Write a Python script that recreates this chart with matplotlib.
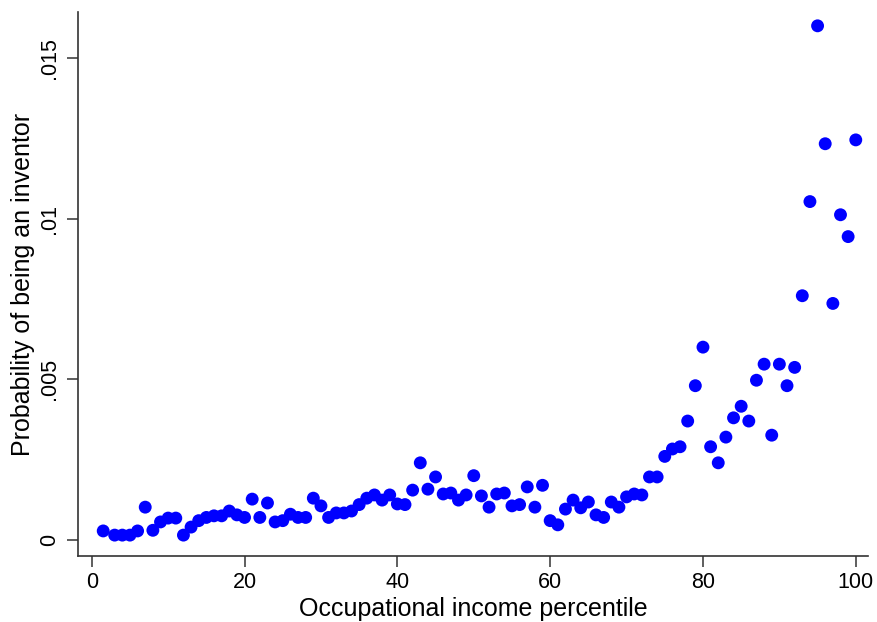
import numpy as np
import matplotlib.pyplot as plt

plt.rcParams['font.family'] = ['Liberation Sans', 'DejaVu Sans']

# occupational income percentile (first bin sits at 1.5)
pctile = [1.5] + list(range(3, 101))
# probability of being an inventor
prob = [0.00028, 0.00015, 0.00015, 0.00015, 0.00028, 0.00102, 0.00030, 0.00056, 0.00068, 0.00068,
        0.00015, 0.00040, 0.00060, 0.00070, 0.00075, 0.00075, 0.00090, 0.00078, 0.00070, 0.00127,
        0.00070, 0.00115, 0.00056, 0.00060, 0.00080, 0.00070, 0.00070, 0.00130, 0.00106, 0.00070,
        0.00084, 0.00084, 0.00090, 0.00110, 0.00130, 0.00140, 0.00124, 0.00140, 0.00112, 0.00110,
        0.00155, 0.00240, 0.00158, 0.00196, 0.00143, 0.00146, 0.00124, 0.00140, 0.00200, 0.00137,
        0.00102, 0.00143, 0.00146, 0.00106, 0.00110, 0.00165, 0.00102, 0.00170, 0.00060, 0.00047,
        0.00096, 0.00124, 0.00100, 0.00118, 0.00078, 0.00070, 0.00118, 0.00102, 0.00134, 0.00143,
        0.00140, 0.00196, 0.00196, 0.00260, 0.00283, 0.00290, 0.00370, 0.00480, 0.00600, 0.00290,
        0.00240, 0.00320, 0.00380, 0.00416, 0.00370, 0.00497, 0.00547, 0.00326, 0.00547, 0.00480,
        0.00537, 0.00760, 0.01053, 0.01600, 0.01233, 0.00736, 0.01012, 0.00944, 0.01245]

fig = plt.figure(figsize=(8.78, 6.22), dpi=100)
ax = fig.add_axes([78/878, 1 - 556/622, 790/878, 544/622])

ax.scatter(pctile, prob, s=86, color='#0000ff', edgecolors='none', zorder=3)

ax.set_xlim(-1.8, 101.6)
ax.set_ylim(-0.0005, 0.01643)
ax.set_xticks([0, 20, 40, 60, 80, 100])
ax.set_yticks([0, 0.005, 0.01, 0.015])
ax.set_yticklabels(['0', '.005', '.01', '.015'], rotation=90, va='center')

for side in ['top', 'right']:
    ax.spines[side].set_visible(False)
for side in ['left', 'bottom']:
    ax.spines[side].set_linewidth(1.2)
    ax.spines[side].set_color('#333333')
ax.tick_params(direction='out', length=8, width=1.1, colors='#333333', labelcolor='black', labelsize=15.5)
ax.tick_params(axis='y', pad=5)

ax.set_xlabel('Occupational income percentile', fontsize=18, labelpad=3)
ax.set_ylabel('Probability of being an inventor', fontsize=18, labelpad=3)

fig.savefig('out.png', dpi=100)
